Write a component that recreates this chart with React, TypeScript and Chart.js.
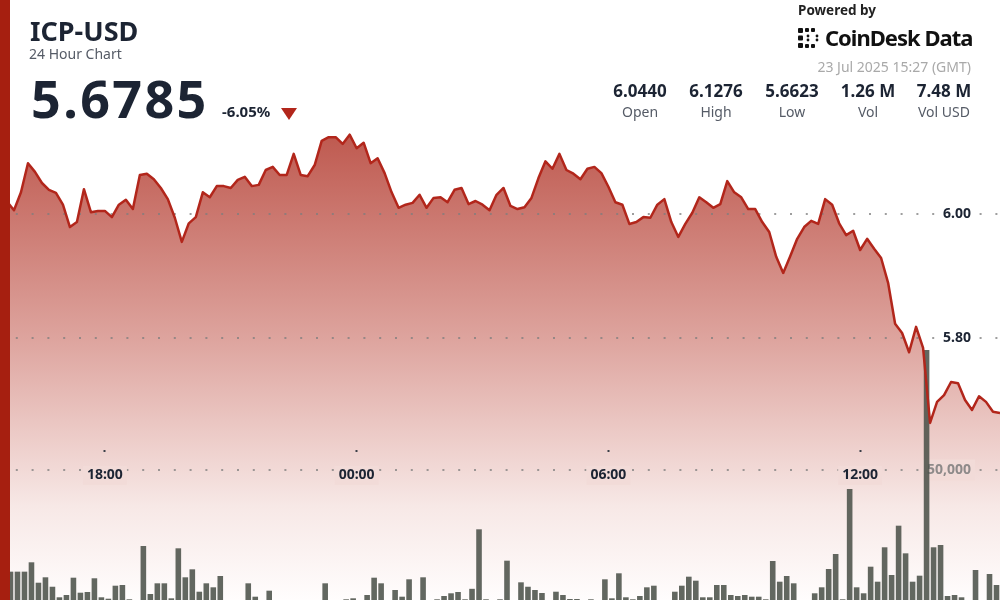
import React, { useEffect, useRef } from "react";
import { Chart, registerables } from "chart.js";

Chart.register(...registerables);

// ---------- data ----------
const START_TIME = "15:30"; // first 10-minute slot shown
const STEP_MINUTES = 10;
const tickLabels = ["18:00", "00:00", "06:00", "12:00"];
const priceTicks = [5.8, 6.0];
const volumeTicks = [50000];

const prices = [
  6.044, 6.020, 6.006, 6.035, 6.082, 6.068, 6.050, 6.039, 6.034, 6.015,
  5.979, 5.987, 6.040, 6.003, 6.005, 6.005, 5.995, 6.015, 6.023, 6.008,
  6.063, 6.065, 6.056, 6.042, 6.024, 5.994, 5.955, 5.985, 5.995, 6.035,
  6.027, 6.045, 6.045, 6.042, 6.055, 6.060, 6.045, 6.047, 6.071, 6.076,
  6.063, 6.063, 6.097, 6.063, 6.061, 6.079, 6.118, 6.124, 6.124, 6.113,
  6.128, 6.106, 6.115, 6.082, 6.090, 6.066, 6.035, 6.010, 6.015, 6.018,
  6.031, 6.010, 6.026, 6.027, 6.019, 6.039, 6.042, 6.016, 6.021, 6.015,
  6.006, 6.031, 6.042, 6.013, 6.008, 6.011, 6.026, 6.058, 6.085, 6.073,
  6.097, 6.071, 6.065, 6.056, 6.073, 6.076, 6.066, 6.044, 6.019, 6.015,
  5.984, 5.987, 5.995, 5.994, 6.015, 6.024, 5.987, 5.963, 5.984, 6.002,
  6.027, 6.019, 6.010, 6.016, 6.053, 6.035, 6.027, 6.008, 6.008, 5.987,
  5.971, 5.931, 5.905, 5.932, 5.960, 5.979, 5.989, 5.984, 6.024, 6.015,
  5.985, 5.966, 5.973, 5.942, 5.960, 5.944, 5.929, 5.889, 5.823, 5.808,
  5.777, 5.818, 5.784, 5.663, 5.697, 5.708, 5.729, 5.727, 5.700, 5.684,
  5.706, 5.697, 5.681, 5.679,
];

const volumes = [
  11000, 10900, 10900, 10900, 14500, 6650, 8730, 5100, 1040, 1920,
  8580, 2810, 3080, 8350, 1040, 500, 5500, 5770, 270, 0,
  20770, 2310, 6420, 6420, 650, 19880, 8730, 11800, 3190, 6420,
  4880, 9230, 0, 0, 0, 6420, 1270, 0, 3580, 0,
  0, 0, 0, 0, 0, 0, 6420, 0, 0, 270,
  650, 0, 1920, 8580, 6420, 0, 3850, 1270, 7960, 0,
  8730, 0, 270, 1540, 2580, 3080, 270, 4300, 27190, 270,
  0, 270, 15120, 0, 6800, 5100, 3850, 2700, 0, 3190,
  1920, 380, 380, 0, 270, 0, 7960, 650, 10270, 1040,
  270, 1540, 4880, 5500, 0, 0, 3190, 5500, 8970, 7430,
  1040, 1040, 5770, 5770, 1920, 1540, 1920, 1270, 1270, 270,
  15000, 7040, 9230, 6420, 0, 0, 2580, 4880, 11920, 17690,
  270, 42690, 4880, 2580, 12810, 7040, 20270, 9620, 28580, 17950,
  7040, 9350, 96150, 20270, 21150, 1540, 1920, 1040, 0, 11540,
  0, 10000, 5770,
];

const symbol = "ICP-USD";
const subtitle = "24 Hour Chart";
const lastPrice = "5.6785";
const changePct = "-6.05%";
const poweredBy = "Powered by";
const brand = "CoinDesk Data";
const stamp = "23 Jul 2025 15:27 (GMT)";
const statValues = ["6.0440", "6.1276", "5.6623", "1.26 M", "7.48 M"];
const statLabels = ["Open", "High", "Low", "Vol", "Vol USD"];

// ---------- helpers ----------
function buildTimes(start: string, n: number, step: number): string[] {
  const [h, m] = start.split(":").map(Number);
  const out: string[] = [];
  for (let i = 0; i < n; i++) {
    const t = (h * 60 + m + i * step) % (24 * 60);
    const hh = String(Math.floor(t / 60)).padStart(2, "0");
    const mm = String(t % 60).padStart(2, "0");
    out.push(`${hh}:${mm}`);
  }
  return out;
}

const times = buildTimes(START_TIME, prices.length, STEP_MINUTES);
const tickIndex = tickLabels.map((l) => times.indexOf(l));

const PRICE_MIN = 5.3774;
const PRICE_MAX = 6.3452;
const VOL_MAX = 230769;

const FONT = "'Noto Sans', sans-serif";
const NAVY = "#1c2433";
const LOW_PINK = "rgb(242,219,216)";

function zeroPad(s: any) {
  s.paddingLeft = 0;
  s.paddingRight = 0;
  s.paddingTop = 0;
  s.paddingBottom = 0;
  if (!s.isHorizontal()) s.width = 0;
}

function ChartCanvas() {
  const ref = useRef<HTMLCanvasElement | null>(null);
  useEffect(() => {
    if (!ref.current) return;
    Chart.defaults.font.family = FONT;
    const chart = new Chart(ref.current, {
      type: "line",
      data: {
        datasets: [
          {
            type: "line",
            label: "Price",
            data: prices.map((p, i) => ({ x: i, y: p })),
            xAxisID: "x",
            yAxisID: "y",
            borderColor: "#b2261b",
            borderWidth: 2.5,
            borderJoinStyle: "round",
            pointRadius: 0,
            tension: 0,
            fill: "start",
            backgroundColor: (ctx: any) => {
              const c = ctx.chart;
              const area = c.chartArea;
              if (!area) return "rgba(200,110,100,0.6)";
              const g = c.ctx.createLinearGradient(0, area.top + 130, 0, area.bottom);
              g.addColorStop(0, "rgb(190,88,78)");
              g.addColorStop(0.45, "rgb(222,165,159)");
              g.addColorStop(0.8, "rgb(247,232,230)");
              g.addColorStop(1, "rgb(255,253,253)");
              return g;
            },
            order: 0,
          } as any,
          {
            type: "bar",
            label: "Volume",
            data: volumes.map((v, k) => ({ x: k + 0.5, y: v })),
            xAxisID: "x",
            yAxisID: "yv",
            backgroundColor: "rgba(76,82,74,0.88)",
            borderWidth: 0,
            barPercentage: 0.8,
            categoryPercentage: 1,
            order: 1,
          } as any,
        ],
      },
      options: {
        animation: false,
        responsive: true,
        maintainAspectRatio: false,
        layout: { padding: 0 },
        events: [],
        plugins: {
          legend: { display: false },
          tooltip: { enabled: false },
          filler: { drawTime: "beforeDraw" },
        } as any,
        scales: {
          x: {
            type: "linear",
            min: 0,
            max: prices.length - 1,
            offset: false,
            position: { yv: VOL_MAX * 0.25 } as any,
            afterBuildTicks: (s: any) => {
              s.ticks = tickIndex.map((v) => ({ value: v }));
            },
            afterFit: zeroPad,
            grid: {
              offset: false,
              drawOnChartArea: false,
              drawTicks: true,
              tickLength: 2,
              tickWidth: 2,
              tickColor: "#3a3f48",
            },
            border: { display: false },
            ticks: {
              autoSkip: false,
              maxRotation: 0,
              minRotation: 0,
              padding: 15,
              color: NAVY,
              font: { size: 14, weight: "bold" },
              callback: (v: any) => times[v] ?? "",
              showLabelBackdrop: true,
              backdropColor: LOW_PINK,
              backdropPadding: { x: 4, y: 1 },
            } as any,
          },
          y: {
            type: "linear",
            position: "right",
            min: PRICE_MIN,
            max: PRICE_MAX,
            afterBuildTicks: (s: any) => {
              s.ticks = priceTicks.map((v) => ({ value: v }));
            },
            afterFit: zeroPad,
            grid: {
              drawTicks: false,
              color: "rgba(125,125,125,0.75)",
              lineWidth: 2,
              z: -1,
            },
            border: { display: false, dash: [2, 13.8] },
            ticks: {
              mirror: true,
              padding: -29,
              color: NAVY,
              font: { size: 14, weight: "bold" },
              callback: (v: any) => Number(v).toFixed(2),
              showLabelBackdrop: true,
              backdropColor: "#ffffff",
              backdropPadding: { x: 4, y: 2 },
            } as any,
          },
          yv: {
            type: "linear",
            position: "right",
            min: 0,
            max: VOL_MAX,
            afterBuildTicks: (s: any) => {
              s.ticks = volumeTicks.map((v) => ({ value: v }));
            },
            afterFit: zeroPad,
            grid: {
              drawTicks: false,
              color: "rgba(125,125,125,0.75)",
              lineWidth: 2,
              z: -1,
            },
            border: { display: false, dash: [2, 13.8] },
            ticks: {
              mirror: true,
              padding: -29,
              color: "#8e8a8a",
              font: { size: 14, weight: "bold" },
              callback: (v: any) => Number(v).toLocaleString("en-US"),
              showLabelBackdrop: true,
              backdropColor: LOW_PINK,
              backdropPadding: { x: 4, y: 2 },
            } as any,
          },
        },
      },
    });
    return () => chart.destroy();
  }, []);
  return (
    <div style={{ position: "absolute", left: 0, top: 0, width: 1000, height: 600 }}>
      <canvas ref={ref} />
    </div>
  );
}

const abs = (s: React.CSSProperties): React.CSSProperties => ({
  position: "absolute",
  margin: 0,
  lineHeight: 1,
  whiteSpace: "nowrap",
  fontFamily: FONT,
  ...s,
});

export default function App() {
  return (
    <div
      style={{
        position: "fixed",
        left: 0,
        top: 0,
        width: 1000,
        height: 600,
        overflow: "hidden",
        background: "#ffffff",
        fontFamily: FONT,
      }}
    >
      <ChartCanvas />
      {/* left accent bar */}
      <div style={{ position: "absolute", left: 0, top: 0, width: 10, height: 600, background: "#a61f10" }} />

      {/* title block */}
      <div style={abs({ left: 30, top: 17, fontSize: 27, fontWeight: 700, color: NAVY })}>{symbol}</div>
      <div style={abs({ left: 29, top: 47, fontSize: 14, color: "#555b66" })}>{subtitle}</div>
      <div style={abs({ left: 31, top: 72, fontSize: 52, fontWeight: 700, color: NAVY, letterSpacing: 2.4 })}>{lastPrice}</div>
      <div style={abs({ left: 222, top: 104, fontSize: 15, fontWeight: 700, color: NAVY })}>{changePct}</div>
      <div
        style={{
          position: "absolute",
          left: 281,
          top: 108,
          width: 0,
          height: 0,
          borderLeft: "8px solid transparent",
          borderRight: "8px solid transparent",
          borderTop: "12px solid #b2261b",
        }}
      />

      {/* branding */}
      <div style={abs({ left: 798, top: 4, fontSize: 13.5, fontWeight: 700, color: "#222" })}>{poweredBy}</div>
      <svg width="22" height="20" viewBox="0 0 22 20" style={{ position: "absolute", left: 798, top: 28 }}>
        <g fill="#111">
          <rect x="0" y="0" width="5" height="5" rx="1" />
          <rect x="0" y="7.5" width="5" height="5" rx="1" />
          <rect x="0" y="15" width="5" height="5" rx="1" />
          <rect x="7" y="0" width="4" height="4" rx="1" />
          <rect x="13" y="0" width="4" height="4" rx="1" />
          <rect x="7" y="16" width="4" height="4" rx="1" />
          <rect x="13" y="16" width="4" height="4" rx="1" />
          <circle cx="10" cy="8" r="1.4" />
          <circle cx="10" cy="12" r="1.4" />
          <circle cx="19" cy="8" r="1.4" />
          <circle cx="19" cy="12" r="1.4" />
        </g>
      </svg>
      <div style={abs({ left: 825, top: 26, fontSize: 22, fontWeight: 700, color: "#111", letterSpacing: -1 })}>{brand}</div>
      <div style={abs({ right: 29, top: 60, fontSize: 14, color: "#a9a9a9" })}>{stamp}</div>

      {/* stats */}
      {statValues.map((v, j) => (
        <div key={v} style={abs({ left: 602 + 76 * j, width: 76, top: 82, textAlign: "center", fontSize: 17, fontWeight: 700, color: NAVY })}>
          {v}
        </div>
      ))}
      {statLabels.map((l, j) => (
        <div key={l} style={abs({ left: 602 + 76 * j, width: 76, top: 104.5, textAlign: "center", fontSize: 14, color: "#555b66" })}>
          {l}
        </div>
      ))}
    </div>
  );
}
